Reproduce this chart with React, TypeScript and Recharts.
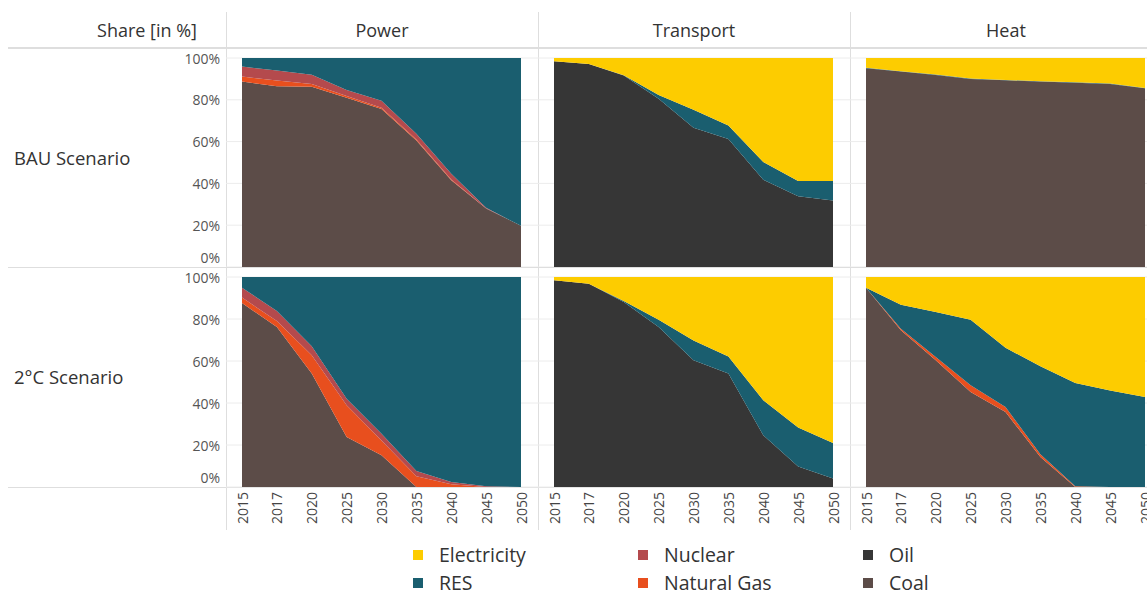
import { AreaChart, Area, XAxis, YAxis, CartesianGrid } from "recharts";

const YEARS = ["2015", "2017", "2020", "2025", "2030", "2035", "2040", "2045", "2050"];
const SECTORS = ["Power", "Transport", "Heat"];
const SCENARIOS = ["BAU Scenario", "2°C Scenario"];
const PCT_TICKS = [0, 20, 40, 60, 80, 100];

// BAU scenario (share in %)
const BAU_POWER_COAL = [88.7, 86.5, 86.3, 81, 75.6, 60.5, 41.5, 28, 19.7];
const BAU_POWER_GAS = [2.4, 2.7, 1.3, 0.8, 0.6, 0.5, 0.4, 0, 0];
const BAU_POWER_NUCLEAR = [4.8, 4.8, 4.4, 2.9, 3.4, 2.7, 2.7, 0.3, 0];
const BAU_POWER_RES = [4.1, 6, 8, 15.3, 20.4, 36.3, 55.4, 71.7, 80.3];

const BAU_TRANSPORT_OIL = [98.4, 97.1, 91.6, 80.5, 66.6, 61.3, 41.7, 33.8, 31.8];
const BAU_TRANSPORT_RES = [0, 0, 0.2, 1.8, 8.6, 6.4, 8.5, 7.3, 9.3];
const BAU_TRANSPORT_ELEC = [1.6, 2.9, 8.2, 17.7, 24.8, 32.3, 49.8, 58.9, 58.9];

const BAU_HEAT_COAL = [95.1, 93.5, 91.9, 90, 89.3, 88.7, 88.2, 87.6, 85.5];
const BAU_HEAT_RES = [0.2, 0.2, 0.2, 0.2, 0.2, 0.2, 0.2, 0.2, 0.2];
const BAU_HEAT_ELEC = [4.7, 6.3, 7.9, 9.8, 10.5, 11.1, 11.6, 12.2, 14.3];

// 2°C scenario (share in %)
const C2_POWER_COAL = [87.6, 76.2, 54, 23.8, 15.1, 0, 0, 0, 0];
const C2_POWER_GAS = [2.6, 2.8, 8.7, 15.1, 7.1, 5.1, 1.3, 0, 0];
const C2_POWER_NUCLEAR = [4.7, 4.8, 4.3, 3.1, 3.2, 2.5, 1.1, 0.3, 0];
const C2_POWER_RES = [5.1, 16.2, 33, 58, 74.6, 92.4, 97.6, 99.7, 100];

const C2_TRANSPORT_OIL = [98.4, 96.8, 88.1, 76.2, 60.3, 54, 24.6, 9.8, 4];
const C2_TRANSPORT_RES = [0, 0, 0.5, 3.5, 9.5, 8.2, 16.7, 18.5, 17];
const C2_TRANSPORT_ELEC = [1.6, 3.2, 11.4, 20.3, 30.2, 37.8, 58.7, 71.7, 79];

const C2_HEAT_COAL = [94.9, 74.6, 60.3, 45.2, 35.7, 14.3, 0, 0, 0];
const C2_HEAT_GAS = [0, 0.8, 1.6, 3.2, 2.4, 1.3, 0.3, 0, 0];
const C2_HEAT_RES = [0, 11.4, 21.4, 31.3, 28.2, 41.9, 49.2, 46, 42.9];
const C2_HEAT_ELEC = [5.1, 13.2, 16.7, 20.3, 33.7, 42.5, 50.5, 54, 57.1];

const COLORS: Record<string, string> = {
  Electricity: "#FDCC00",
  RES: "#1A5E6F",
  Nuclear: "#B44A4D",
  "Natural Gas": "#E84F1E",
  Oil: "#363636",
  Coal: "#5C4C48",
};

// bottom to top
const STACK_ORDER = ["Coal", "Oil", "Natural Gas", "Nuclear", "RES", "Electricity"];
const LEGEND_ITEMS = ["Electricity", "RES", "Nuclear", "Natural Gas", "Oil", "Coal"];

const PANELS: Record<string, number[]>[][] = [
  [
    { Coal: BAU_POWER_COAL, "Natural Gas": BAU_POWER_GAS, Nuclear: BAU_POWER_NUCLEAR, RES: BAU_POWER_RES },
    { Oil: BAU_TRANSPORT_OIL, RES: BAU_TRANSPORT_RES, Electricity: BAU_TRANSPORT_ELEC },
    { Coal: BAU_HEAT_COAL, RES: BAU_HEAT_RES, Electricity: BAU_HEAT_ELEC },
  ],
  [
    { Coal: C2_POWER_COAL, "Natural Gas": C2_POWER_GAS, Nuclear: C2_POWER_NUCLEAR, RES: C2_POWER_RES },
    { Oil: C2_TRANSPORT_OIL, RES: C2_TRANSPORT_RES, Electricity: C2_TRANSPORT_ELEC },
    { Coal: C2_HEAT_COAL, "Natural Gas": C2_HEAT_GAS, RES: C2_HEAT_RES, Electricity: C2_HEAT_ELEC },
  ],
];

// layout
const COL_X = [226, 538, 850];
const COL_W = 312;
const PLOT_L = 16;
const PLOT_R = 17;
const ROW_SEP = [48, 267, 487];
const PLOT_PAD_TOP = 10;
const Y_AXIS_W = 96;
const X_AXIS_H = 48;
const LINE = "#dedede";
const FONT = '"Open Sans", "Noto Sans", sans-serif';

function YTick(props: any) {
  const { x, y, payload } = props;
  const v = payload.value;
  return (
    <text x={x} y={v === 0 ? y - 10 : y} textAnchor="end" dominantBaseline="central" fontSize={14} fill="#555" fontFamily={FONT}>
      {v}%
    </text>
  );
}

function XTick(props: any) {
  const { x, y, payload } = props;
  return (
    <text
      x={x}
      y={y}
      transform={`rotate(-90 ${x} ${y})`}
      textAnchor="end"
      dominantBaseline="central"
      fontSize={14}
      fill="#444"
      fontFamily={FONT}
    >
      {payload.value}
    </text>
  );
}

function Panel({ row, col }: { row: number; col: number }) {
  const series = PANELS[row][col];
  const data = YEARS.map((year, i) => {
    const d: Record<string, any> = { year };
    Object.keys(series).forEach((k) => (d[k] = series[k][i]));
    return d;
  });
  const keys = STACK_ORDER.filter((k) => series[k]);
  const first = col === 0;
  const last = row === 1;
  const left = first ? COL_X[0] + PLOT_L - Y_AXIS_W : COL_X[col];
  const width = first ? Y_AXIS_W + COL_W - PLOT_L : COL_W;
  const height = ROW_SEP[row + 1] - ROW_SEP[row] + (last ? X_AXIS_H : 0);

  return (
    <div style={{ position: "absolute", left, top: ROW_SEP[row] }}>
      <AreaChart
        width={width}
        height={height}
        data={data}
        margin={{ top: PLOT_PAD_TOP, right: PLOT_R, bottom: 0, left: first ? 0 : PLOT_L }}
      >
        <CartesianGrid
          horizontal
          vertical={false}
          stroke="#ececec"
          x={COL_X[col] - left}
          width={COL_W}
        />
        <XAxis
          dataKey="year"
          hide={!last}
          height={X_AXIS_H}
          interval={0}
          axisLine={false}
          tickLine={false}
          tickSize={0}
          tickMargin={5}
          tick={<XTick />}
        />
        <YAxis
          type="number"
          domain={[0, 100]}
          ticks={PCT_TICKS}
          interval={0}
          allowDataOverflow
          hide={!first}
          width={Y_AXIS_W}
          axisLine={false}
          tickLine={false}
          tickSize={0}
          tickMargin={22}
          tick={<YTick />}
        />
        {keys.map((k) => (
          <Area
            key={k}
            dataKey={k}
            stackId="a"
            type="linear"
            stroke="none"
            fill={COLORS[k]}
            fillOpacity={1}
            isAnimationActive={false}
          />
        ))}
      </AreaChart>
    </div>
  );
}

export default function App() {
  const textBase = { position: "absolute" as const, height: 24, lineHeight: "24px", color: "#333", fontSize: 18.5 };
  return (
    <div
      style={{
        position: "absolute",
        left: 0,
        top: 0,
        width: 1147,
        height: 596,
        overflow: "hidden",
        background: "#fff",
        fontFamily: FONT,
      }}
    >
      {/* separators */}
      {ROW_SEP.map((y, i) => (
        <div key={"h" + i} style={{ position: "absolute", left: 8, top: y - (i === 0 ? 1 : 0), width: 1147, height: i === 0 ? 2 : 1, background: LINE }} />
      ))}
      {COL_X.map((x, i) => (
        <div key={"v" + i} style={{ position: "absolute", left: x, top: 12, width: 1, height: 518, background: LINE }} />
      ))}

      {PANELS.map((r, ri) => r.map((_, ci) => <Panel key={ri + "-" + ci} row={ri} col={ci} />))}

      {/* headers */}
      <div style={{ ...textBase, fontSize: 18, left: 0, width: 197, top: 18, textAlign: "right" }}>Share [in %]</div>
      {SECTORS.map((s, i) => (
        <div key={s} style={{ ...textBase, fontSize: 18, left: COL_X[i], width: COL_W, top: 18, textAlign: "center" }}>
          {s}
        </div>
      ))}
      {SCENARIOS.map((s, i) => (
        <div
          key={s}
          style={{ ...textBase, left: 14, top: (ROW_SEP[i] + PLOT_PAD_TOP + ROW_SEP[i + 1]) / 2 - 17, whiteSpace: "nowrap" }}
        >
          {s}
        </div>
      ))}

      {/* legend */}
      {LEGEND_ITEMS.map((name, i) => {
        const c = Math.floor(i / 2);
        const r = i % 2;
        return (
          <div
            key={name}
            style={{
              position: "absolute",
              left: 413 + c * 225,
              top: 546 + r * 28,
              height: 18,
              display: "flex",
              alignItems: "center",
              whiteSpace: "nowrap",
            }}
          >
            <span style={{ display: "inline-block", width: 10, height: 10, background: COLORS[name], marginRight: 16 }} />
            <span style={{ fontSize: 19.5, lineHeight: "18px", color: "#333" }}>{name}</span>
          </div>
        );
      })}
    </div>
  );
}
